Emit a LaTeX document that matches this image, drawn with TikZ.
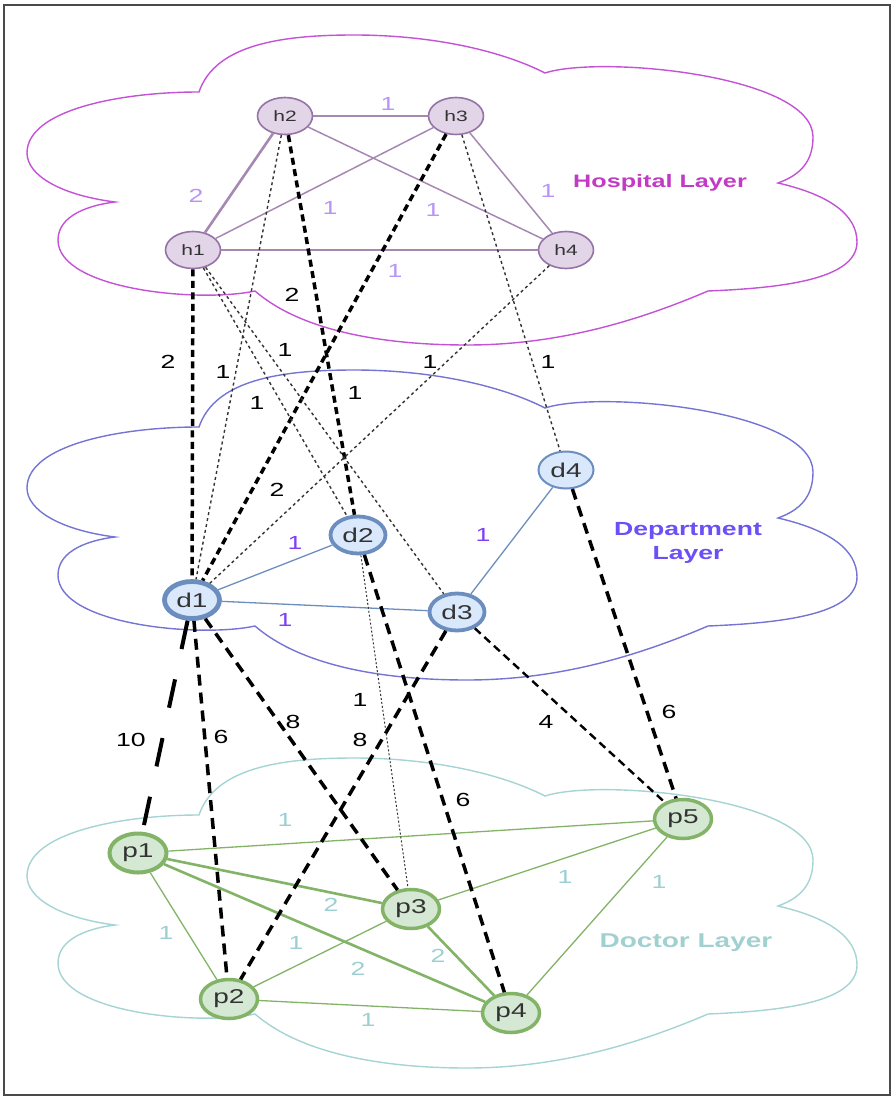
\documentclass[tikz,border=0pt]{standalone}
\usepackage{fontspec}
\setmainfont{Liberation Sans}[FakeStretch=1.4]
\usetikzlibrary{shapes.geometric}

\definecolor{framecol}{HTML}{4A4A4A}
\definecolor{hospfill}{HTML}{E1D5E7}
\definecolor{hospline}{HTML}{9673A6}
\definecolor{hospcloud}{HTML}{C452D6}
\definecolor{hosptext}{HTML}{C23BC4}
\definecolor{hosplbl}{HTML}{B794F6}
\definecolor{depfill}{HTML}{DAE8FC}
\definecolor{depline}{HTML}{6C8EBF}
\definecolor{depcloud}{HTML}{7474D4}
\definecolor{deptext}{HTML}{6A50F5}
\definecolor{deplbl}{HTML}{8040F0}
\definecolor{docfill}{HTML}{D5E8D4}
\definecolor{docline}{HTML}{82B366}
\definecolor{doccloud}{HTML}{A6D3D3}
\definecolor{doctext}{HTML}{A0D0D0}
\definecolor{doclbl}{HTML}{9CCFD0}

% one cloud outline, shifted down by #2
\newcommand{\layercloud}[2]{%
  \draw[#1, line width=1.4pt, shift={(0,#2)}]
    (199,92) .. controls (215,45) and (280,35) .. (354,35)
    .. controls (430,35) and (500,50) .. (545,73)
    .. controls (600,55) and (813,75) .. (813,137)
    .. controls (813,162) and (800,175) .. (778,183)
    .. controls (830,195) and (857,215) .. (857,242)
    .. controls (857,280) and (780,288) .. (708,291)
    .. controls (640,320) and (560,345) .. (467,345)
    .. controls (380,345) and (300,330) .. (255,291)
    .. controls (200,303) and (58,290) .. (58,240)
    .. controls (58,215) and (90,205) .. (115,202)
    .. controls (60,195) and (27,175) .. (27,153)
    .. controls (27,110) and (120,92) .. (199,92) -- cycle;}

\tikzset{
  hnode/.style={ellipse, draw=hospline, fill=hospfill, line width=1.6pt, minimum width=55pt, minimum height=37pt, inner sep=0pt, text=black!80, font=\fontsize{15}{16}\selectfont},
  dnode/.style={ellipse, draw=depline, fill=depfill, line width=3.8pt, minimum width=55pt, minimum height=37pt, inner sep=0pt, text=black!80, font=\fontsize{20}{21}\selectfont},
  pnode/.style={ellipse, draw=docline, fill=docfill, line width=3.5pt, minimum width=57pt, minimum height=39pt, inner sep=0pt, text=black!80, font=\fontsize{20}{21}\selectfont},
  hline/.style={draw=hospline!85, line width=1.5pt},
  dline/.style={draw=depline, line width=1.3pt},
  pline/.style={draw=docline, line width=1.3pt},
  heavy/.style={line width=2.6pt},
  hdash/.style={draw=black, line width=3.5pt, dash pattern=on 7pt off 4.5pt},
  pdash/.style={draw=black, line width=3.5pt, dash pattern=on 11pt off 7pt},
  longdash/.style={draw=black, line width=4pt, dash pattern=on 29pt off 31pt},
  middash/.style={draw=black, line width=2.4pt, dash pattern=on 8pt off 5pt},
  thindot/.style={draw=black!80, line width=1.4pt, dash pattern=on 3pt off 3pt},
  finedot/.style={draw=black!80, line width=1pt, dash pattern=on 2pt off 2pt},
  wlbl/.style={inner sep=0pt, font=\fontsize{19}{20}\selectfont},
  title/.style={font=\bfseries\fontsize{19}{24}\selectfont, align=center}
}

\begin{document}
\begin{tikzpicture}[x=1pt, y=-1pt]
  \useasboundingbox (0,0) rectangle (895,1099);
  \draw[framecol, line width=2.8pt] (4,5) rectangle (890,1095);

  % clouds
  \layercloud{hospcloud}{0}
  \layercloud{depcloud}{335}
  \layercloud{doccloud}{723}

  \node[title, text=hosptext, font=\bfseries\fontsize{18}{20}\selectfont] (hosptitle) at (660,183) {Hospital Layer};
  \node[title, text=deptext] (deptitle) at (688,543) {Department\\Layer};
  \node[title, text=doctext, font=\bfseries\fontsize{20}{22}\selectfont] (doctitle) at (686,943) {Doctor Layer};

  % nodes
  \node[hnode] (h1) at (193,250) {h1};
  \node[hnode] (h2) at (285,116) {h2};
  \node[hnode] (h3) at (456,116) {h3};
  \node[hnode] (h4) at (566,250) {h4};

  \node[dnode, line width=4.8pt] (d1) at (192,600) {d1};
  \node[dnode] (d2) at (358,535) {d2};
  \node[dnode] (d3) at (457,612) {d3};
  \node[dnode, line width=2pt] (d4) at (566,470) {d4};

  \node[pnode, line width=4pt] (p1) at (138,853) {p1};
  \node[pnode] (p2) at (229,999) {p2};
  \node[pnode] (p3) at (411,909) {p3};
  \node[pnode] (p4) at (511,1013) {p4};
  \node[pnode] (p5) at (683,819) {p5};

  % hospital layer
  \draw[hline, heavy] (h1) -- (h2);
  \draw[hline] (h2) -- (h3);
  \draw[hline] (h1) -- (h3);
  \draw[hline] (h2) -- (h4);
  \draw[hline] (h3) -- (h4);
  \draw[hline] (h1) -- (h4);

  % department layer
  \draw[dline] (d1) -- (d2);
  \draw[dline] (d1) -- (d3);
  \draw[dline] (d3) -- (d4);

  % doctor layer
  \draw[pline] (p1) -- (p5);
  \draw[pline, heavy] (p1) -- (p3);
  \draw[pline, heavy] (p1) -- (p4);
  \draw[pline] (p1) -- (p2);
  \draw[pline] (p2) -- (p3);
  \draw[pline] (p2) -- (p4);
  \draw[pline, heavy] (p3) -- (p4);
  \draw[pline] (p3) -- (p5);
  \draw[pline] (p4) -- (p5);

  % hospital -> department
  \draw[hdash] (h1) -- (d1);
  \draw[hdash] (h3) -- (d1);
  \draw[hdash] (h2) -- (d2);
  \draw[thindot] (h2) -- (d1);
  \draw[thindot] (h1) -- (d2);
  \draw[thindot] (h1) -- (d3);
  \draw[thindot] (h4) -- (d1);
  \draw[thindot] (h3) -- (d4);

  % department -> doctor
  \draw[longdash] (d1) -- (p1);
  \draw[pdash] (d1) -- (p2);
  \draw[pdash] (d1) -- (p3);
  \draw[pdash] (d2) -- (p4);
  \draw[pdash] (d3) -- (p2);
  \draw[pdash] (d4) -- (p5);
  \draw[middash] (d3) -- (p5);
  \draw[finedot] (d2) -- (p3);

  % weights
  \node[wlbl, text=hosplbl] (w-h2h3) at (388,104) {1};
  \node[wlbl, text=hosplbl] (w-h1h2) at (196,196) {2};
  \node[wlbl, text=hosplbl] (w-h1h3) at (330,208) {1};
  \node[wlbl, text=hosplbl] (w-h2h4) at (433,210) {1};
  \node[wlbl, text=hosplbl] (w-h3h4) at (548,191) {1};
  \node[wlbl, text=hosplbl] (w-h1h4) at (395,271) {1};

  \node[wlbl] (w-h3d1a) at (292,295) {2};
  \node[wlbl] (w-h1d1) at (168,362) {2};
  \node[wlbl] (w-h2d1) at (223,372) {1};
  \node[wlbl] (w-h1d3) at (285,350) {1};
  \node[wlbl] (w-h1d2) at (257,403) {1};
  \node[wlbl] (w-h2d2) at (355,393) {1};
  \node[wlbl] (w-h4d1) at (430,362) {1};
  \node[wlbl] (w-h3d4) at (548,362) {1};
  \node[wlbl] (w-h3d1) at (277,490) {2};

  \node[wlbl, text=deplbl] (w-d1d2) at (295,543) {1};
  \node[wlbl, text=deplbl] (w-d1d3) at (285,620) {1};
  \node[wlbl, text=deplbl] (w-d3d4) at (483,535) {1};

  \node[wlbl] (w-d1p1) at (131,740) {10};
  \node[wlbl] (w-d1p2) at (221,737) {6};
  \node[wlbl] (w-d1p3) at (293,722) {8};
  \node[wlbl] (w-d2p3) at (360,700) {1};
  \node[wlbl] (w-d3p2) at (360,740) {8};
  \node[wlbl] (w-d3p5) at (546,722) {4};
  \node[wlbl] (w-d4p5) at (669,712) {6};
  \node[wlbl] (w-d2p4) at (463,800) {6};

  \node[wlbl, text=doclbl] (w-p1p5) at (285,820) {1};
  \node[wlbl, text=doclbl] (w-p1p3) at (331,905) {2};
  \node[wlbl, text=doclbl] (w-p1p2) at (166,933) {1};
  \node[wlbl, text=doclbl] (w-p2p3) at (296,943) {1};
  \node[wlbl, text=doclbl] (w-p1p4) at (358,969) {2};
  \node[wlbl, text=doclbl] (w-p3p4) at (438,956) {2};
  \node[wlbl, text=doclbl] (w-p2p4) at (368,1020) {1};
  \node[wlbl, text=doclbl] (w-p3p5) at (565,877) {1};
  \node[wlbl, text=doclbl] (w-p4p5) at (659,882) {1};
\end{tikzpicture}
\end{document}
